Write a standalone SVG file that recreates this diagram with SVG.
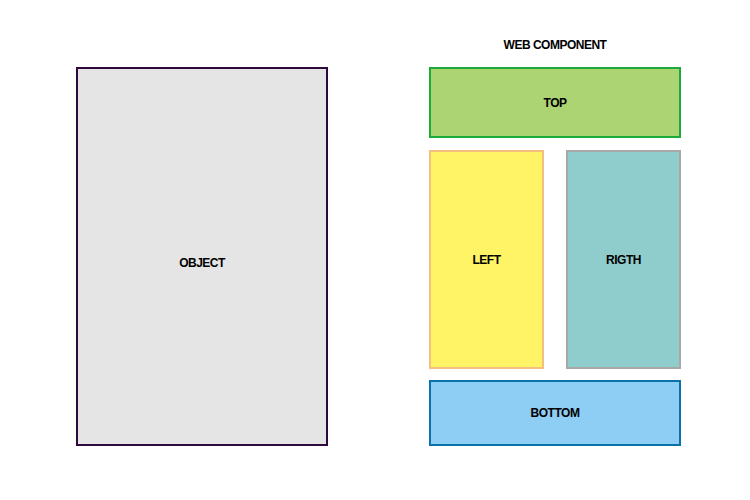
<svg xmlns="http://www.w3.org/2000/svg" width="750" height="500" viewBox="0 0 750 500">
<style>
  text { font-family: "Liberation Sans", Arial, sans-serif; font-weight: bold; font-size: 12px; text-anchor: middle; fill: #000; letter-spacing: -0.5px; }
  rect { stroke-width: 2; }
</style>
<rect width="750" height="500" fill="#fff" stroke="none"/>
<text x="555" y="49">WEB COMPONENT</text>
<g id="object">
  <rect x="77" y="68" width="250" height="377" fill="#e5e5e5" stroke="#2d0a3b"/>
  <text x="202" y="267">OBJECT</text>
</g>
<g id="top">
  <rect x="430" y="68" width="250" height="69" fill="#add473" stroke="#1aab3a"/>
  <text x="555" y="107">TOP</text>
</g>
<g id="left">
  <rect x="430" y="151" width="113" height="217" fill="#fff466" stroke="#f5bf7f"/>
  <text x="486.5" y="264">LEFT</text>
</g>
<g id="rigth">
  <rect x="567" y="151" width="113" height="217" fill="#8ecdcc" stroke="#a8a8a8"/>
  <text x="623.5" y="264">RIGTH</text>
</g>
<g id="bottom">
  <rect x="430" y="381" width="250" height="64" fill="#8ecdf4" stroke="#0a72a8"/>
  <text x="555" y="417">BOTTOM</text>
</g>
<g id="connectors"></g>
</svg>
